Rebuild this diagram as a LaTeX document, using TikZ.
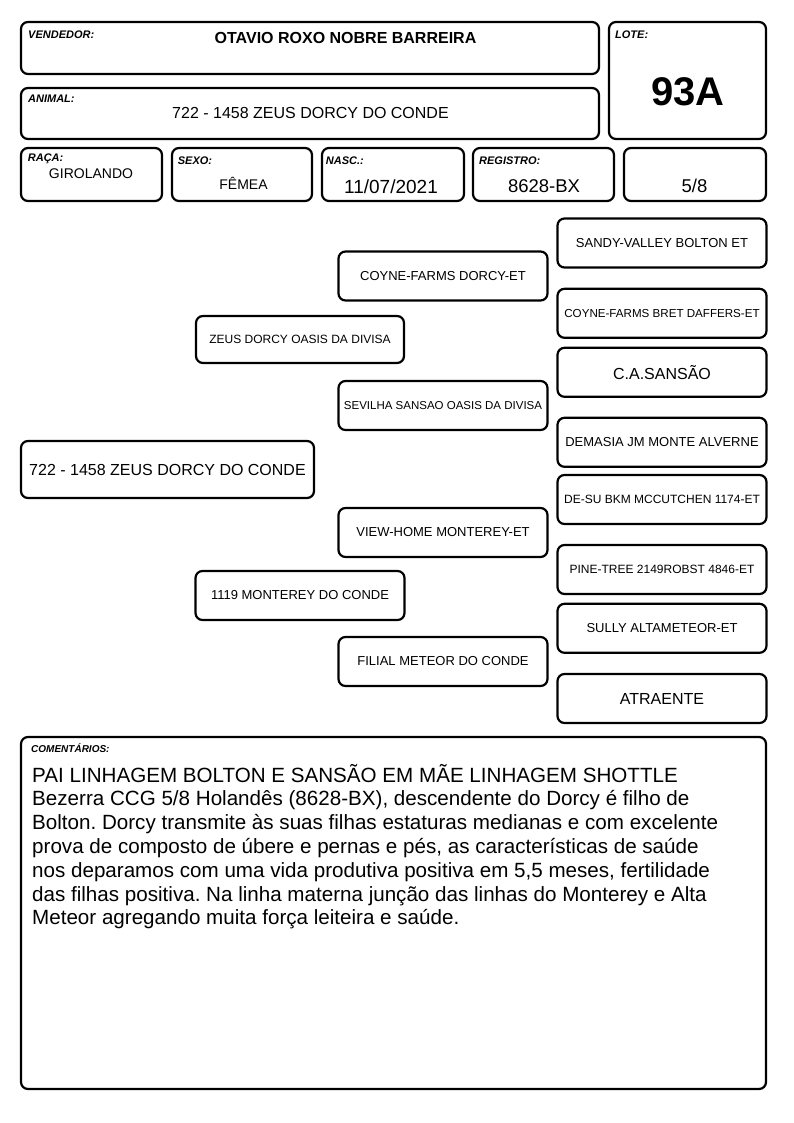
\documentclass[tikz,border=0pt]{standalone}
\usepackage{fontspec}
\setmainfont{Liberation Sans}
\frenchspacing
\newcommand{\pxsize}[1]{\fontsize{#1}{#1}\selectfont}
\begin{document}
\begin{tikzpicture}[x=1pt,y=-1pt,
  box/.style={draw,line width=2.2pt,rounded corners=7pt,inner sep=0pt},
  ped/.style={box,minimum width=209pt,minimum height=48pt},
  lbl/.style={anchor=base west,inner sep=0pt,font=\pxsize{11}\bfseries\itshape},
  val/.style={anchor=base,inner sep=0pt},
  txt/.style={anchor=base west,inner sep=0pt,font=\pxsize{20.6}}]
\useasboundingbox (0,0) rectangle (794,1123);
\node[box,minimum width=578pt,minimum height=52pt] (vend) at (310,48) {};
\node[box,minimum width=578pt,minimum height=51pt] (anim) at (310,113.5) {};
\node[box,minimum width=157pt,minimum height=117pt] (lote) at (687.5,80.5) {};
\node[box,minimum width=141pt,minimum height=53pt] (raca) at (91.5,174.5) {};
\node[box,minimum width=140pt,minimum height=53pt] (sexo) at (242,174.5) {};
\node[box,minimum width=142pt,minimum height=53pt] (nasc) at (393,174.5) {};
\node[box,minimum width=141pt,minimum height=53pt] (reg) at (543.5,174.5) {};
\node[box,minimum width=142pt,minimum height=53pt] (grau) at (695,174.5) {};
\node[lbl] (vendlbl) at (28,39) {VENDEDOR:};
\node[lbl] (animlbl) at (28,103) {ANIMAL:};
\node[lbl] (lotelbl) at (615,39) {LOTE:};
\node[lbl] (racalbl) at (27.7,162) {RAÇA:};
\node[lbl] (sexolbl) at (177.7,165) {SEXO:};
\node[lbl] (nasclbl) at (325.7,165) {NASC.:};
\node[lbl] (reglbl) at (479,165) {REGISTRO:};
\node[val,font=\pxsize{16}\bfseries] (vendval) at (345.5,43.3) {OTAVIO ROXO NOBRE BARREIRA};
\node[val,font=\pxsize{16}] (animval) at (310.5,119) {722 - 1458 ZEUS DORCY DO CONDE};
\node[val,font=\pxsize{40}\bfseries] (loteval) at (688,105.7) {93A};
\node[val,font=\pxsize{14}] (racaval) at (91,178.3) {GIROLANDO};
\node[val,font=\pxsize{14}] (sexoval) at (243.5,190) {FÊMEA};
\node[val,font=\pxsize{19}] (nascval) at (391,193.3) {11/07/2021};
\node[val,font=\pxsize{18.5}] (regval) at (544,192.7) {8628-BX};
\node[val,font=\pxsize{18.5}] (grauval) at (694.5,192.7) {5/8};
\node[ped,minimum width=293pt,minimum height=57pt,font=\pxsize{16}] (a0) at (167.5,469.5) {722 - 1458 ZEUS DORCY DO CONDE};
\node[ped,minimum width=208pt,minimum height=47pt,font=\pxsize{12}] (s) at (300,339.5) {ZEUS DORCY OASIS DA DIVISA};
\node[ped,minimum height=49pt,font=\pxsize{13}] (d) at (300,595.5) {1119 MONTEREY DO CONDE};
\node[ped,minimum height=49pt,font=\pxsize{13}] (ss) at (443,276) {COYNE-FARMS DORCY-ET};
\node[ped,minimum height=49pt,font=\pxsize{11.5}] (sd) at (443,405.5) {SEVILHA SANSAO OASIS DA DIVISA};
\node[ped,minimum height=49pt,font=\pxsize{13}] (ds) at (443,532.5) {VIEW-HOME MONTEREY-ET};
\node[ped,minimum height=49pt,font=\pxsize{13}] (dd) at (443,661.5) {FILIAL METEOR DO CONDE};
\node[ped,minimum height=49pt,font=\pxsize{13}] (sss) at (662,243) {SANDY-VALLEY BOLTON ET};
\node[ped,minimum height=49pt,font=\pxsize{11.6}] (ssd) at (662,313.3) {COYNE-FARMS BRET DAFFERS-ET};
\node[ped,minimum height=49pt,font=\pxsize{16}] (sds) at (662,372.3) {C.A.SANSÃO};
\node[ped,minimum height=49pt,font=\pxsize{13}] (sdd) at (662,442.3) {DEMASIA JM MONTE ALVERNE};
\node[ped,minimum height=49pt,font=\pxsize{12}] (dss) at (662,499.5) {DE-SU BKM MCCUTCHEN 1174-ET};
\node[ped,minimum height=49pt,font=\pxsize{12}] (dsd) at (662,569.5) {PINE-TREE 2149ROBST 4846-ET};
\node[ped,minimum height=49pt,font=\pxsize{13}] (dds) at (662,628.3) {SULLY ALTAMETEOR-ET};
\node[ped,minimum height=49pt,font=\pxsize{16}] (ddd) at (662,698.5) {ATRAENTE};
\node[box,minimum width=745pt,minimum height=352pt] (com) at (393.5,913) {};
\node[lbl,font=\pxsize{10}\bfseries\itshape] (comlbl) at (31,752.7) {COMENTÁRIOS:};
\node[txt] (c1) at (32,782) {PAI LINHAGEM BOLTON E SANSÃO EM MÃE LINHAGEM SHOTTLE};
\node[txt] (c2) at (32,805.8) {Bezerra CCG 5/8 Holandês (8628-BX), descendente do Dorcy é filho de};
\node[txt] (c3) at (32,829.6) {Bolton. Dorcy transmite às suas filhas estaturas medianas e com excelente};
\node[txt] (c4) at (32,853.4) {prova de composto de úbere e pernas e pés, as características de saúde};
\node[txt] (c5) at (32,877.2) {nos deparamos com uma vida produtiva positiva em 5,5 meses, fertilidade};
\node[txt] (c6) at (32,901) {das filhas positiva. Na linha materna junção das linhas do Monterey e Alta};
\node[txt] (c7) at (32,924.8) {Meteor agregando muita força leiteira e saúde.};
\end{tikzpicture}
\end{document}
